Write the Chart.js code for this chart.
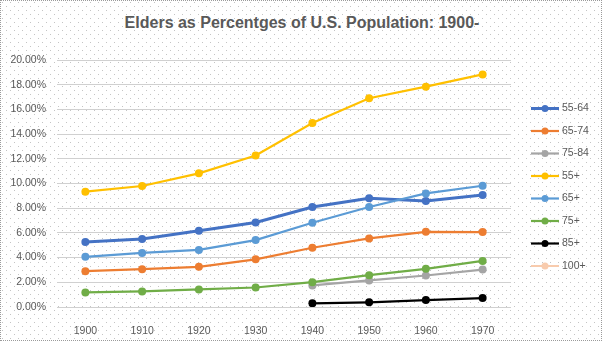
<!DOCTYPE html>
<html>
<head>
<meta charset="utf-8">
<script src="https://cdn.jsdelivr.net/npm/chart.js@4"></script>
<style>
  html, body { margin: 0; padding: 0; background: #fff; }
  #wrap {
    position: relative; width: 602px; height: 341px; box-sizing: border-box;
    border: 1px dotted #9a9a9a;
    background-image: url("data:image/svg+xml,%3Csvg xmlns='http://www.w3.org/2000/svg' width='8' height='8'%3E%3Crect x='1' y='1' width='1' height='1' fill='%23c4c4c4'/%3E%3Crect x='5' y='5' width='1' height='1' fill='%23c4c4c4'/%3E%3C/svg%3E");
  }
  #title {
    position: absolute; left: 0; top: 13px; width: 602px; text-align: center;
    font: bold 16px "Liberation Sans", Arial, sans-serif; color: #595959;
  }
  canvas { position: absolute; left: -1px; top: -1px; }
</style>
</head>
<body>
<div id="wrap">
  <div id="title">Elders as Percentges of U.S. Population: 1900-</div>
  <canvas id="c" width="602" height="341"></canvas>
</div>
<script>
const years = ["1900","1910","1920","1930","1940","1950","1960","1970"];
const s55_64 = [5.26, 5.50, 6.17, 6.84, 8.10, 8.80, 8.59, 9.07];
const s65_74 = [2.90, 3.06, 3.25, 3.86, 4.80, 5.55, 6.09, 6.07];
const s75_84 = [null, null, null, null, 1.75, 2.15, 2.55, 3.03];
const s55p   = [9.34, 9.80, 10.82, 12.27, 14.89, 16.90, 17.84, 18.83];
const s65p   = [4.06, 4.38, 4.62, 5.42, 6.82, 8.10, 9.20, 9.82];
const s75p   = [1.18, 1.26, 1.42, 1.58, 2.01, 2.58, 3.09, 3.73];
const s85p   = [null, null, null, null, 0.30, 0.38, 0.56, 0.72];
const s100p  = [null, null, null, null, null, null, null, null];
const seriesNames = ["55-64","65-74","75-84","55+","65+","75+","85+","100+"];
const seriesData = [s55_64, s65_74, s75_84, s55p, s65p, s75p, s85p, s100p];
const colors = ["#4472C4","#ED7D31","#A5A5A5","#FFC000","#5B9BD5","#70AD47","#000000","#F8CBAD"];
const widths = [3, 2.2, 2.2, 2.2, 2.2, 2.2, 2.2, 2];

const FONT = '"Liberation Sans", Arial, sans-serif';

const datasets = seriesData.map((d, i) => ({
  label: seriesNames[i],
  data: d,
  borderColor: colors[i],
  backgroundColor: colors[i],
  borderWidth: widths[i],
  pointRadius: 4,
  pointHoverRadius: 4,
  pointBorderWidth: 0,
  tension: 0,
  spanGaps: false,
  order: seriesNames.length - i
}));

const legendPlugin = {
  id: 'sideLegend',
  afterDraw(chart) {
    const ctx = chart.ctx;
    ctx.save();
    chart.data.datasets.forEach((ds, i) => {
      const y = 108.5 + i * 22.5;
      ctx.strokeStyle = ds.borderColor;
      ctx.lineWidth = ds.borderWidth;
      ctx.beginPath();
      ctx.moveTo(531, y);
      ctx.lineTo(559, y);
      ctx.stroke();
      ctx.fillStyle = ds.borderColor;
      ctx.beginPath();
      ctx.arc(545, y, 3.5, 0, Math.PI * 2);
      ctx.fill();
      ctx.fillStyle = '#595959';
      ctx.font = '10.5px ' + FONT;
      ctx.textBaseline = 'middle';
      ctx.textAlign = 'left';
      ctx.fillText(ds.label, 562, y);
    });
    ctx.restore();
  }
};

new Chart(document.getElementById('c'), {
  type: 'line',
  data: { labels: years, datasets },
  options: {
    responsive: false,
    animation: false,
    events: [],
    layout: { padding: { top: 60, right: 91, left: 7, bottom: 0 } },
    plugins: { legend: { display: false }, tooltip: { enabled: false }, title: { display: false } },
    scales: {
      x: {
        offset: true,
        grid: { display: false },
        border: { display: false },
        ticks: { color: '#595959', font: { family: FONT, size: 10.5 }, padding: 10 },
        afterFit(s) { s.height = 34; }
      },
      y: {
        min: 0, max: 20,
        grid: { color: '#d0d0d0', lineWidth: 1, drawTicks: false },
        border: { display: false },
        ticks: {
          stepSize: 2,
          color: '#595959',
          font: { family: FONT, size: 10.5 },
          padding: 11,
          callback: v => v.toFixed(2) + '%'
        },
        afterFit(s) { s.width = 50; }
      }
    }
  },
  plugins: [legendPlugin]
});
</script>
</body>
</html>
